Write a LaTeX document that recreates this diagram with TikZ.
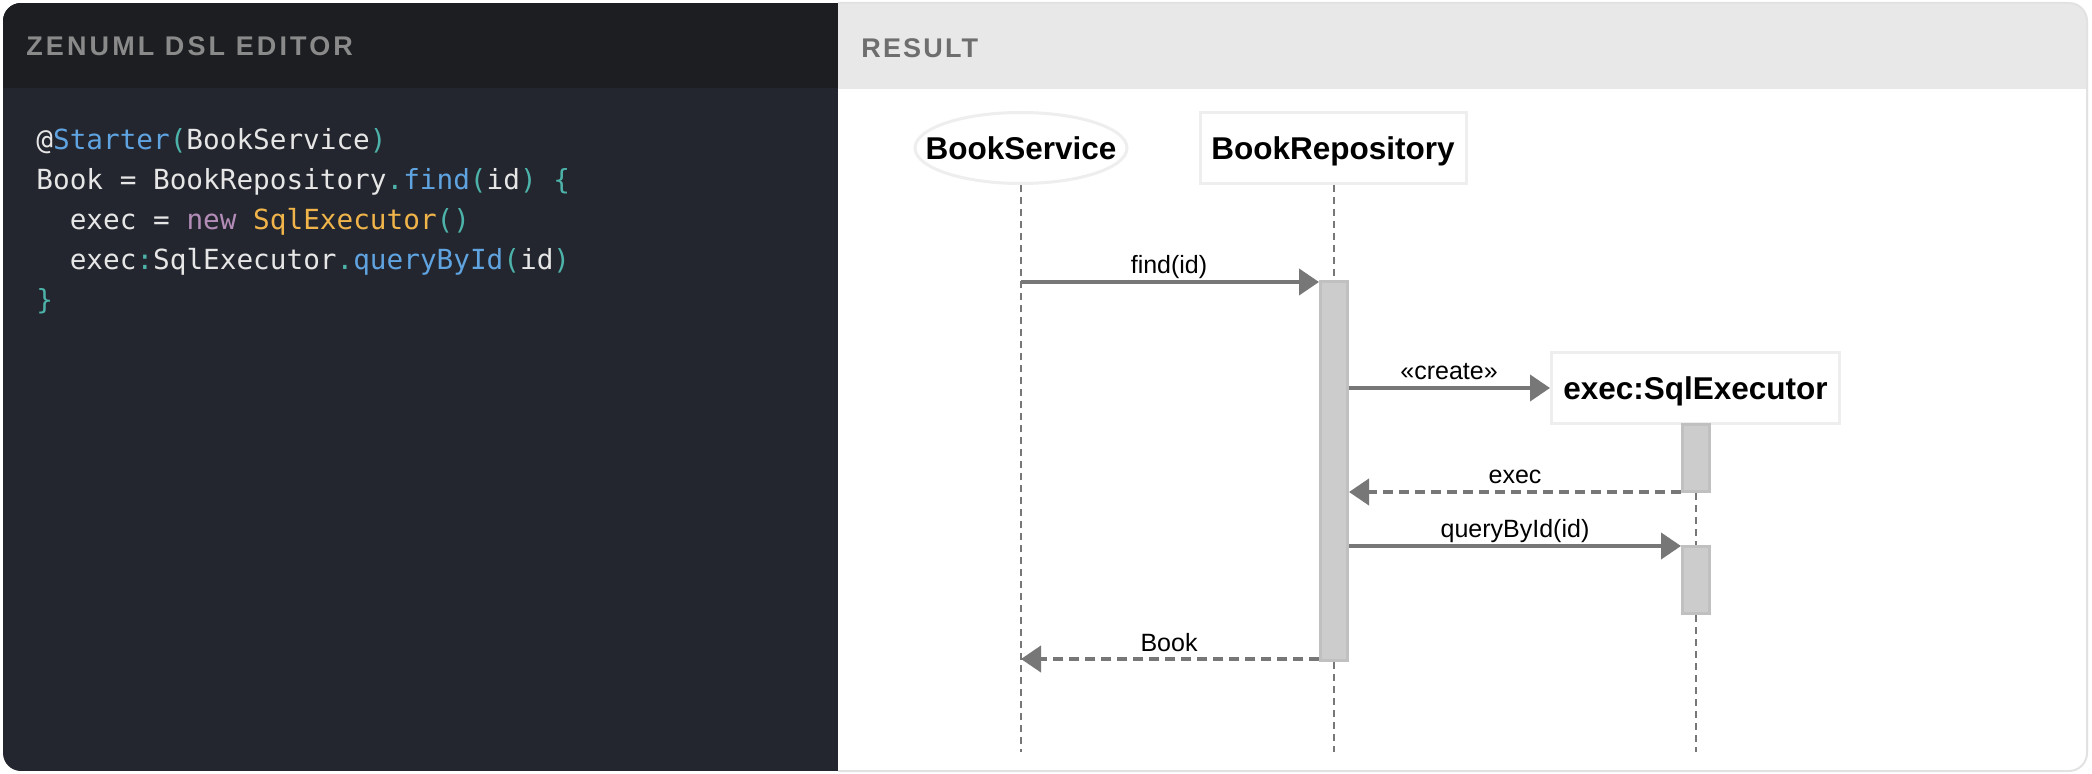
\documentclass[tikz,border=0pt]{standalone}
\usepackage{fontspec}
\setmainfont{Liberation Sans}
\newfontfamily\codefont{DejaVu Sans Mono}
\newfontfamily\hdrfont[LetterSpace=8]{Liberation Sans}
\newfontfamily\hdrfontwide[LetterSpace=11.5]{Liberation Sans}
\usetikzlibrary{arrows.meta,shapes.geometric}
\definecolor{darkhead}{HTML}{1C1E22}
\definecolor{darkbody}{HTML}{23262E}
\definecolor{lighthead}{HTML}{E8E8E8}
\definecolor{framegray}{HTML}{E2E2E2}
\definecolor{hdrgrayA}{HTML}{8A8A8A}
\definecolor{hdrgrayB}{HTML}{6E6E6E}
\definecolor{codefg}{HTML}{E6E6E6}
\definecolor{cblue}{HTML}{5FA3E0}
\definecolor{cteal}{HTML}{4DB3AA}
\definecolor{cmauve}{HTML}{B48CB8}
\definecolor{corange}{HTML}{F0B44A}
\definecolor{partline}{HTML}{EEEEEE}
\definecolor{arrowgray}{HTML}{777777}
\definecolor{lifegray}{HTML}{777777}
\definecolor{actfill}{HTML}{CCCCCC}
\definecolor{actline}{HTML}{C0C0C0}
\newcommand\cBlue[1]{\textcolor{cblue}{#1}}
\newcommand\cTeal[1]{\textcolor{cteal}{#1}}
\newcommand\cMauve[1]{\textcolor{cmauve}{#1}}
\newcommand\cOrange[1]{\textcolor{corange}{#1}}
\begin{document}
\begin{tikzpicture}[x=0.5pt,y=-0.5pt,
  codeline/.style={anchor=base west, inner sep=0pt, text=codefg,
    font=\codefont\fontsize{13.85}{20}\selectfont},
  hdr/.style={anchor=base west, inner sep=0pt},
  part/.style={font=\bfseries\fontsize{15.75}{18}\selectfont, text height=11.3pt,
    text depth=0pt, inner sep=0pt, line width=1.5pt, draw=partline, fill=white},
  act/.style={draw=actline, fill=actfill, line width=1.5pt, inner sep=0pt,
    minimum width=13.5pt},
  lbl/.style={anchor=base, inner sep=0pt, font=\fontsize{12.5}{15}\selectfont},
  msg/.style={draw=arrowgray, line width=2pt, -{Triangle[length=10pt,width=13pt]}},
  ret/.style={msg, dash pattern=on 5pt off 3pt},
  life/.style={draw=lifegray, line width=1pt, dash pattern=on 3.5pt off 2.5pt}]
\useasboundingbox (0,0) rectangle (2092,774);
% frame
\begin{scope}
  \clip[rounded corners=9pt] (3,3) rectangle (2087,771);
  \fill[white] (3,3) rectangle (2087,771);
  \fill[darkbody] (3,3) rectangle (838,771);
  \fill[darkhead] (3,3) rectangle (838,88);
  \fill[lighthead] (838,3) rectangle (2087,89);
\end{scope}
\begin{scope}
  \clip (838,0) rectangle (2092,774);
  \draw[framegray, line width=1pt, rounded corners=9pt] (3,3) rectangle (2087,771);
\end{scope}
% headers
\node[hdr, text=hdrgrayA, font=\hdrfontwide\bfseries\fontsize{13.5}{16}\selectfont] (edtitle) at (26,56) {ZENUML DSL EDITOR};
\node[hdr, text=hdrgrayB, font=\hdrfont\bfseries\fontsize{13.5}{16}\selectfont] (restitle) at (861,58) {RESULT};
% code
\node[codeline] (c1) at (36,150) {@\cBlue{Starter}\cTeal{(}BookService\cTeal{)}};
\node[codeline] (c2) at (36,190) {Book = BookRepository\cTeal{.}\cBlue{find}\cTeal{(}id\cTeal{)} \cTeal{\{}};
\node[codeline] (c3) at (69.4,230) {exec = \cMauve{new} \cOrange{SqlExecutor}\cTeal{()}};
\node[codeline] (c4) at (69.4,270) {exec\cTeal{:}SqlExecutor\cTeal{.}\cBlue{queryById}\cTeal{(}id\cTeal{)}};
\node[codeline] (c5) at (36,310) {\cTeal{\}}};
% participants
\node[part, ellipse, minimum width=106pt, minimum height=35.5pt] (bs) at (1021,148) {\makebox[0pt]{BookService}};
\node[part, rectangle, minimum width=133pt, minimum height=35.5pt] (br) at (1333,148) {BookRepository};
\node[part, rectangle, minimum width=144pt, minimum height=35.5pt] (se) at (1695.5,388) {exec:SqlExecutor};
% activations
\node[act, minimum height=189.5pt] (a1) at (1334,471) {};
\node[act, minimum height=33.5pt] (a2) at (1696,458) {};
\node[act, minimum height=33.5pt] (a3) at (1696,580) {};
% end coordinates
\coordinate (yend) at (0,752);
\coordinate (y1) at (0,282);
\coordinate (y2) at (0,388);
\coordinate (y3) at (0,492);
\coordinate (y4) at (0,546);
\coordinate (y5) at (0,659);
% lifelines
\draw[life] (bs.south) -- (bs.south |- yend);
\draw[life] (br.south -| a1.north) -- (a1.north);
\draw[life] (a1.south) -- (a1.south |- yend);
\draw[life] (a2.south) -- (a3.north);
\draw[life] (a3.south) -- (a3.south |- yend);
% messages
\draw[msg] (bs.south |- y1) -- (a1.west |- y1);
\draw[msg] (a1.east |- y2) -- (se.west |- y2);
\draw[ret] (a2.west |- y3) -- (a1.east |- y3);
\draw[msg] (a1.east |- y4) -- (a3.west |- y4);
\draw[ret] (a1.west |- y5) -- (bs.south |- y5);
% labels
\node[lbl] (l1) at (1169,274) {find(id)};
\node[lbl] (l2) at (1449,380) {«create»};
\node[lbl] (l3) at (1515,484) {exec};
\node[lbl] (l4) at (1515,538) {queryById(id)};
\node[lbl] (l5) at (1169,651) {Book};
\end{tikzpicture}
\end{document}
